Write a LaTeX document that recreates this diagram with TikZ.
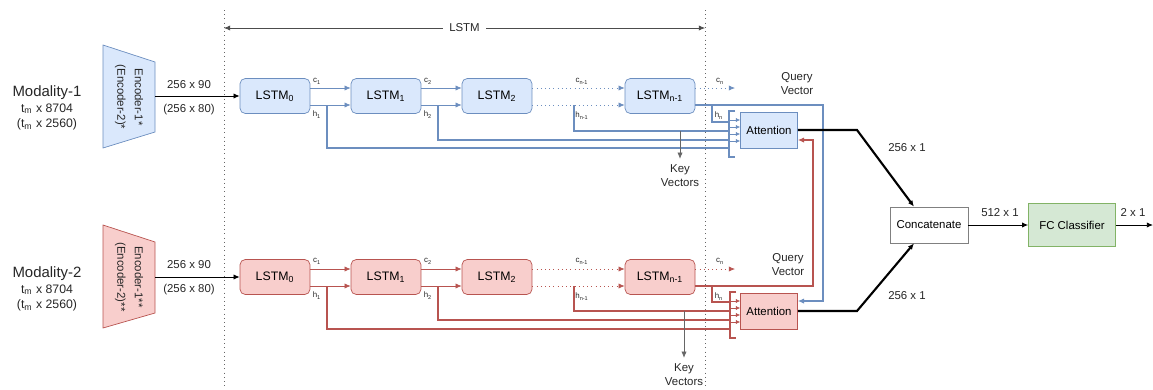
\documentclass[tikz,border=0pt]{standalone}
\usepackage{fontspec}
\setmainfont{Liberation Sans}
\usepackage{tikz}
\usetikzlibrary{arrows.meta}
\definecolor{lstmblue}{HTML}{DAE8FC}
\definecolor{lstmbluedark}{HTML}{6C8EBF}
\definecolor{lstmred}{HTML}{F8CECC}
\definecolor{lstmreddark}{HTML}{B85450}
\definecolor{fcgreen}{HTML}{D5E8D4}
\definecolor{fcgreendark}{HTML}{82B366}

\begin{document}
\begin{tikzpicture}[x=0.02cm, y=-0.02cm, >={Latex[length=3.5pt,width=3pt]},
    lbl/.style={font=\fontsize{6.5}{8}\selectfont, text=black!85},
    sub/.style={font=\fontsize{4.5}{5}\selectfont, text=black!85},
    cell/.style={rounded corners=3pt, minimum width=1.4cm, minimum height=0.7cm, inner sep=0pt, font=\fontsize{7}{8}\selectfont},
    attn/.style={minimum width=1.14cm, minimum height=0.72cm, inner sep=0pt, font=\fontsize{6.5}{8}\selectfont},
    hop/.style={->, line width=0.4pt},
    tap/.style={line width=0.6pt},
    inarrow/.style={-{Latex[length=2.5pt,width=2.5pt]}, line width=0.4pt}]

    \useasboundingbox (0,0) rectangle (1153,389);

    %% LSTM span
    \draw[dotted, black!60] (224,10) -- (224,389);
    \draw[dotted, black!60] (705,10) -- (705,389);
    \coordinate (spanL) at (224,28);
    \coordinate (spanR) at (705,28);
    \draw[<->, black!70, line width=0.4pt] (spanL) -- node[lbl, fill=white] (span) {LSTM} (spanR);

    %% ---------------- modality 1 (blue) ----------------
    \node[align=center, text=black!85, font=\fontsize{7}{9}\selectfont] (mod1) at (47,108)
        {{\fontsize{8.5}{9}\selectfont Modality-1}\\t\textsubscript{m} x 8704\\(t\textsubscript{m} x 2560)};
    \filldraw[fill=lstmblue, draw=lstmbluedark] (103,45) -- (155,62) -- (155,132) -- (103,148) -- cycle;
    \node[rotate=-90, align=center, text=black!85, font=\fontsize{6.5}{10}\selectfont] (enc1) at (129,97) {Encoder-1*\\(Encoder-2)*};
    \coordinate (enc1out) at (155,96);

    \node[cell, fill=lstmblue, draw=lstmbluedark] (b0) at (275,96) {LSTM\textsubscript{0}};
    \node[cell, fill=lstmblue, draw=lstmbluedark] (b1) at (386,96) {LSTM\textsubscript{1}};
    \node[cell, fill=lstmblue, draw=lstmbluedark] (b2) at (497,96) {LSTM\textsubscript{2}};
    \node[cell, fill=lstmblue, draw=lstmbluedark] (bn) at (660,96) {LSTM\textsubscript{n-1}};
    \node[attn, fill=lstmblue, draw=lstmbluedark] (batt) at (769,130) {Attention};

    \draw[->, line width=0.5pt] (enc1out) -- (b0.west);
    \node[lbl] (bdim1) at (189,85) {256 x 90};
    \node[lbl] (bdim2) at (189,110) {(256 x 80)};

    %% cell and hidden states
    \draw[hop, lstmbluedark] (b0.east |- 0,88) -- (b1.west |- 0,88);
    \draw[hop, lstmbluedark] (b0.east |- 0,105) -- (b1.west |- 0,105);
    \draw[hop, lstmbluedark] (b1.east |- 0,88) -- (b2.west |- 0,88);
    \draw[hop, lstmbluedark] (b1.east |- 0,105) -- (b2.west |- 0,105);
    \draw[hop, lstmbluedark, dotted] (b2.east |- 0,88) -- (bn.west |- 0,88);
    \draw[hop, lstmbluedark, dotted] (b2.east |- 0,105) -- (bn.west |- 0,105);
    \coordinate (bcend) at (735,88);
    \draw[hop, lstmbluedark, dotted] (bn.east |- 0,88) -- (bcend);
    \node[sub] (bc1) at (317,81) {c\textsubscript{1}};
    \node[sub] (bh1) at (317,115) {h\textsubscript{1}};
    \node[sub] (bc2) at (428,81) {c\textsubscript{2}};
    \node[sub] (bh2) at (428,115) {h\textsubscript{2}};
    \node[sub] (bc3) at (582,81) {c\textsubscript{n-1}};
    \node[sub] (bh3) at (582,116) {h\textsubscript{n-1}};
    \node[sub] (bcn) at (720,81) {c\textsubscript{n}};
    \node[sub] (bhn) at (719,116) {h\textsubscript{n}};

    %% hidden states to attention
    \coordinate (btap1) at (327,105);
    \coordinate (btap2) at (438,105);
    \coordinate (btap3) at (574,105);
    \coordinate (btap4) at (712,105);
    \draw[tap, lstmbluedark] (btap1) |- (729,148);
    \draw[tap, lstmbluedark] (btap2) |- (729,140);
    \draw[tap, lstmbluedark] (btap3) |- (729,131);
    \draw[tap, lstmbluedark] (btap4) |- (729,122);
    \draw[tap, lstmbluedark] (735,111) -| (729,157) -- (735,157);
    \draw[inarrow, lstmbluedark] (729,120) -- (batt.west |- 0,120);
    \draw[inarrow, lstmbluedark] (729,127) -- (batt.west |- 0,127);
    \draw[inarrow, lstmbluedark] (729,134) -- (batt.west |- 0,134);
    \draw[inarrow, lstmbluedark] (729,141) -- (batt.west |- 0,141);

    \node[lbl, align=center] (bkey) at (680,176) {Key\\Vectors};
    \coordinate (bkeytap) at (680,131);
    \draw[->, black!60, line width=0.4pt] (bkeytap) -- (bkey.north);
    \node[lbl, align=center] (bquery) at (797,84) {Query\\Vector};

    %% ---------------- modality 2 (red) ----------------
    \node[align=center, text=black!85, font=\fontsize{7}{9}\selectfont] (mod2) at (47,289)
        {{\fontsize{8.5}{9}\selectfont Modality-2}\\t\textsubscript{m} x 8704\\(t\textsubscript{m} x 2560)};
    \filldraw[fill=lstmred, draw=lstmreddark] (103,225) -- (155,242) -- (155,313) -- (103,328) -- cycle;
    \node[rotate=-90, align=center, text=black!85, font=\fontsize{6.5}{10}\selectfont] (enc2) at (129,277) {Encoder-1**\\(Encoder-2)**};
    \coordinate (enc2out) at (155,277);

    \node[cell, fill=lstmred, draw=lstmreddark] (r0) at (275,277) {LSTM\textsubscript{0}};
    \node[cell, fill=lstmred, draw=lstmreddark] (r1) at (386,277) {LSTM\textsubscript{1}};
    \node[cell, fill=lstmred, draw=lstmreddark] (r2) at (497,277) {LSTM\textsubscript{2}};
    \node[cell, fill=lstmred, draw=lstmreddark] (rn) at (660,277) {LSTM\textsubscript{n-1}};
    \node[attn, fill=lstmred, draw=lstmreddark] (ratt) at (769,311) {Attention};

    \draw[->, line width=0.5pt] (enc2out) -- (r0.west);
    \node[lbl] (rdim1) at (189,265) {256 x 90};
    \node[lbl] (rdim2) at (189,290) {(256 x 80)};

    %% cell and hidden states
    \draw[hop, lstmreddark] (r0.east |- 0,269) -- (r1.west |- 0,269);
    \draw[hop, lstmreddark] (r0.east |- 0,286) -- (r1.west |- 0,286);
    \draw[hop, lstmreddark] (r1.east |- 0,269) -- (r2.west |- 0,269);
    \draw[hop, lstmreddark] (r1.east |- 0,286) -- (r2.west |- 0,286);
    \draw[hop, lstmreddark, dotted] (r2.east |- 0,269) -- (rn.west |- 0,269);
    \draw[hop, lstmreddark, dotted] (r2.east |- 0,286) -- (rn.west |- 0,286);
    \coordinate (rcend) at (735,269);
    \draw[hop, lstmreddark, dotted] (rn.east |- 0,269) -- (rcend);
    \node[sub] (rc1) at (317,261) {c\textsubscript{1}};
    \node[sub] (rh1) at (317,296) {h\textsubscript{1}};
    \node[sub] (rc2) at (428,261) {c\textsubscript{2}};
    \node[sub] (rh2) at (428,296) {h\textsubscript{2}};
    \node[sub] (rc3) at (582,261) {c\textsubscript{n-1}};
    \node[sub] (rh3) at (582,297) {h\textsubscript{n-1}};
    \node[sub] (rcn) at (720,261) {c\textsubscript{n}};
    \node[sub] (rhn) at (719,297) {h\textsubscript{n}};

    %% hidden states to attention
    \coordinate (rtap1) at (327,286);
    \coordinate (rtap2) at (438,286);
    \coordinate (rtap3) at (574,286);
    \coordinate (rtap4) at (712,286);
    \draw[tap, lstmreddark] (rtap1) |- (730,329);
    \draw[tap, lstmreddark] (rtap2) |- (730,320);
    \draw[tap, lstmreddark] (rtap3) |- (730,311);
    \draw[tap, lstmreddark] (rtap4) |- (730,302);
    \draw[tap, lstmreddark] (736,292) -| (730,338) -- (736,338);
    \draw[inarrow, lstmreddark] (730,301) -- (ratt.west |- 0,301);
    \draw[inarrow, lstmreddark] (730,308) -- (ratt.west |- 0,308);
    \draw[inarrow, lstmreddark] (730,315) -- (ratt.west |- 0,315);
    \draw[inarrow, lstmreddark] (730,322) -- (ratt.west |- 0,322);

    \node[lbl, align=center] (rkey) at (684,375) {Key\\Vectors};
    \coordinate (rkeytap) at (684,311);
    \draw[->, black!60, line width=0.4pt] (rkeytap) -- (rkey.north);
    \node[lbl, align=center] (rquery) at (788,265) {Query\\Vector};

    %% query vectors cross over
    \draw[->, tap, lstmbluedark] (bn.east |- 0,105) -| (823,301) -- (ratt.east |- 0,301);
    \draw[->, tap, lstmreddark] (rn.east |- 0,286) -| (813,140) -- (batt.east |- 0,140);

    %% ---------------- fusion ----------------
    \node[draw=black!50, fill=white, minimum width=1.56cm, minimum height=0.72cm, inner sep=0pt,
          font=\fontsize{6.5}{8}\selectfont] (cat) at (929,225) {Concatenate};
    \node[draw=fcgreendark, fill=fcgreen, minimum width=1.74cm, minimum height=0.86cm, inner sep=0pt,
          font=\fontsize{6.5}{8}\selectfont] (fc) at (1072,225) {FC Classifier};
    \coordinate (out) at (1153,225);

    \draw[->, line width=1.2pt] (batt.east) -- (857,130) -- (cat.north -| 914,0);
    \draw[->, line width=1.2pt] (ratt.east) -- (857,311) -- (cat.south -| 914,0);
    \node[lbl] (bvec) at (907,148) {256 x 1};
    \node[lbl] (rvec) at (907,296) {256 x 1};
    \draw[->, line width=0.5pt] (cat) -- (fc);
    \node[lbl] (catdim) at (1000,213) {512 x 1};
    \draw[->, line width=0.5pt] (fc) -- (out);
    \node[lbl] (outdim) at (1133,213) {2 x 1};
  \end{tikzpicture}
\end{document}
